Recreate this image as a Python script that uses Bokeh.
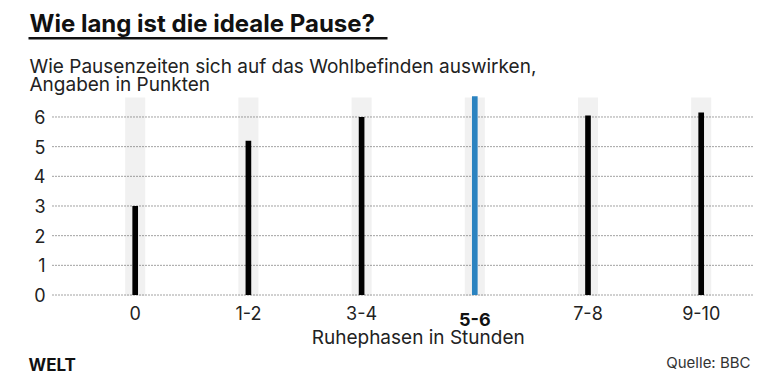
from bokeh.plotting import figure
from bokeh.models import Label, LabelSet, ColumnDataSource, Range1d
from bokeh.core.properties import value
from bokeh.embed import file_html
from bokeh.resources import INLINE

categories = ["0", "1-2", "3-4", "5-6", "7-8", "9-10"]
values = [3.0, 5.2, 6.0, 6.7, 6.05, 6.15]
highlight = "5-6"
y_ticks = [0, 1, 2, 3, 4, 5, 6]

W, H = 780, 373
FONT = "Inter"
TXT = "#222222"

# scale set-up: frame = whole canvas
PX_X = 113.2          # px per category step
X0 = 134.7            # px of first category from canvas left
PX_Y = 29.67          # px per point
Y0 = 294.5            # px of value 0 from canvas top
x_range = Range1d(-X0 / PX_X, (W - X0) / PX_X)
y_range = Range1d(-(H - Y0) / PX_Y, Y0 / PX_Y)

def dx(px):
    return (px - X0) / PX_X

def dy(py):
    return (Y0 - py) / PX_Y

def sy(py):
    return H - py

xs = list(range(len(categories)))
colors = ["#2b83c0" if c == highlight else "#000000" for c in categories]

p = figure(width=W, height=H, output_backend="svg", toolbar_location=None,
           x_range=x_range, y_range=y_range, x_axis_type=None, y_axis_type=None,
           min_border=0, min_border_left=0, min_border_right=0,
           min_border_top=0, min_border_bottom=0)
p.outline_line_color = None
p.xgrid.visible = False
p.ygrid.visible = False

# gray background bands
p.vbar(x=xs, top=[dy(97)] * len(xs), bottom=dy(295.5), width=0.177,
       color="#f1f1f1", line_color=None)
# dotted gridlines
p.segment(x0=[dx(52)] * len(y_ticks), x1=[dx(752)] * len(y_ticks),
          y0=y_ticks, y1=y_ticks, line_color="#444444", line_dash="1 2",
          line_width=1)
# bars
p.vbar(x=xs, top=values, bottom=0, width=0.05, color=colors, line_color=None)

# y tick labels
ysrc = ColumnDataSource(dict(y=y_ticks, t=[str(v) for v in y_ticks],
                             x=[dx(45)] * len(y_ticks)))
p.add_layout(LabelSet(x="x", y="y", text="t", source=ysrc,
                      text_font=value(FONT), text_font_size=value("18px"),
                      text_color=TXT, text_align="right",
                      text_baseline="middle"))
# x tick labels
norm = [(i, c) for i, c in enumerate(categories) if c != highlight]
xsrc = ColumnDataSource(dict(x=[i for i, _ in norm], t=[c for _, c in norm],
                             y=[dy(319)] * len(norm)))
p.add_layout(LabelSet(x="x", y="y", text="t", source=xsrc,
                      text_font=value(FONT), text_font_size=value("18px"),
                      text_color=TXT, text_align="center",
                      text_baseline="alphabetic"))
p.add_layout(Label(x=categories.index(highlight), y=dy(319), text=highlight,
                   text_font=FONT, text_font_style="bold", text_font_size="18px",
                   text_color="#111111", text_align="center",
                   text_baseline="alphabetic"))
# axis title
p.add_layout(Label(x=(xs[0] + xs[-1]) / 2, y=dy(337),
                   text="Ruhephasen in Stunden", text_font=FONT,
                   text_font_size="19px", text_color=TXT,
                   text_align="center", text_baseline="alphabetic"))

# Title
p.add_layout(Label(x=29, y=sy(23), x_units="screen", y_units="screen",
                   text="Wie lang ist die ideale Pause?", text_font=FONT,
                   text_font_style="bold", text_font_size="24px",
                   text_color="#111111", text_baseline="alphabetic"))
p.segment(x0=[dx(28)], x1=[dx(387)], y0=[dy(37.7)], y1=[dy(37.7)],
          line_color="#111111", line_width=2.5)
p.add_layout(Label(x=29, y=sy(65.5), x_units="screen", y_units="screen",
                   text="Wie Pausenzeiten sich auf das Wohlbefinden auswirken,",
                   text_font=FONT, text_font_size="19px", text_color=TXT,
                   text_baseline="alphabetic"))
p.add_layout(Label(x=29, y=sy(84), x_units="screen", y_units="screen",
                   text="Angaben in Punkten",
                   text_font=FONT, text_font_size="19px", text_color=TXT,
                   text_baseline="alphabetic"))
# footer
p.add_layout(Label(x=28, y=sy(364), x_units="screen", y_units="screen",
                   text="WELT", text_font=FONT, text_font_style="bold",
                   text_font_size="17px", text_color="#111111",
                   text_baseline="alphabetic"))
p.add_layout(Label(x=750, y=sy(362), x_units="screen", y_units="screen",
                   text="Quelle: BBC", text_font=FONT,
                   text_font_size="15px", text_color="#333333",
                   text_align="right", text_baseline="alphabetic"))

open("out.html", "w").write(file_html(p, INLINE))
